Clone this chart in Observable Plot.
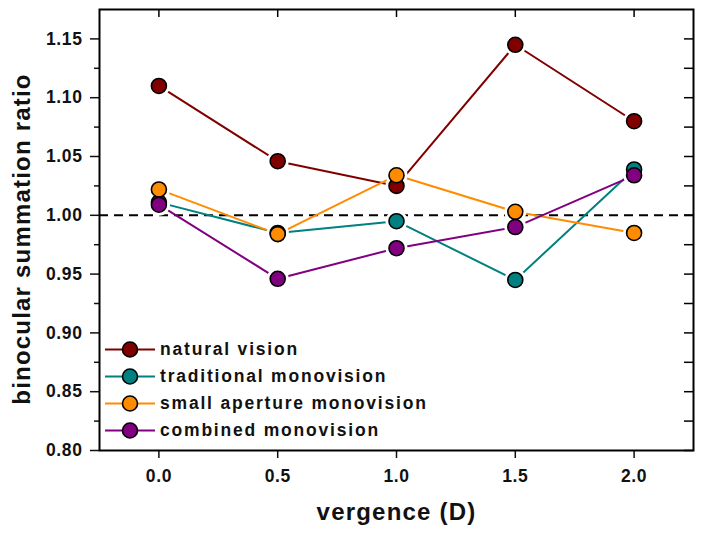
<!DOCTYPE html>
<html><head><meta charset="utf-8">
<script src="https://cdn.jsdelivr.net/npm/d3@7"></script>
<script src="https://cdn.jsdelivr.net/npm/@observablehq/plot@0.6"></script>
<style>
body{margin:0;background:#fff;font-family:"Liberation Sans",Arial,sans-serif;}
#wrap{position:relative;width:703px;height:537px;}
#legend{position:absolute;left:105px;top:336px;}
.row{display:flex;align-items:center;height:27px;}
.row span{font-weight:bold;font-size:17.5px;letter-spacing:1.8px;color:#111;margin-left:3px;}
g[aria-label="y-axis tick label"] text, g[aria-label="x-axis tick label"] text{letter-spacing:0.6px;font-size:17.5px;font-weight:bold;fill:#111;}
</style></head><body><div id="wrap"></div>
<script>
const vergence = [0.0, 0.5, 1.0, 1.5, 2.0];
const seriesNames = ["natural vision", "traditional monovision", "small aperture monovision", "combined monovision"];
const seriesColors = ["#800000", "#008080", "#FF8C00", "#800080"];
const natural = [1.110, 1.046, 1.025, 1.145, 1.080];
const traditional = [1.011, 0.985, 0.995, 0.945, 1.039];
const smallAperture = [1.022, 0.984, 1.034, 1.003, 0.985];
const combined = [1.009, 0.946, 0.972, 0.990, 1.034];
const yTicks = [0.80, 0.85, 0.90, 0.95, 1.00, 1.05, 1.10, 1.15];
const yMinorTicks = [0.825, 0.875, 0.925, 0.975, 1.025, 1.075, 1.125];
const xTicks = [0.0, 0.5, 1.0, 1.5, 2.0];
const xLabel = "vergence (D)";
const yLabel = "binocular summation ratio";

const seriesValues = [natural, traditional, smallAperture, combined];
const data = seriesNames.flatMap((name, i) =>
  vergence.map((v, j) => ({series: name, x: v, y: seriesValues[i][j]})));

const W = 703, H = 537, mL = 99, mR = 10, mT = 9, mB = 87;
const innerW = W - mL - mR, innerH = H - mT - mB;
const font = "'Liberation Sans', Arial, sans-serif";

const chart = Plot.plot({
  width: W, height: H,
  marginLeft: mL, marginRight: mR, marginTop: mT, marginBottom: mB,
  style: {fontFamily: font, background: "white", color: "#111"},
  x: {domain: [-0.25, 2.25]},
  y: {domain: [0.80, 1.175]},
  color: {domain: seriesNames, range: seriesColors},
  marks: [
    Plot.ruleY([1.0], {stroke: "black", strokeWidth: 2, strokeDasharray: "9,6"}),
    Plot.line(data, {x: "x", y: "y", z: "series", stroke: "series", strokeWidth: 2}),
    Plot.dot(data, {x: "x", y: "y", r: 11, fill: "white"}),
    Plot.dot(data, {x: "x", y: "y", r: 7.5, fill: "series", stroke: "black", strokeWidth: 1.6}),
    Plot.axisY(yTicks, {anchor: "left", tickSize: 9, tickPadding: 8, tickFormat: d3.format(".2f"), label: null, fontSize: 17.5, strokeWidth: 1.5}),
    Plot.axisY(yMinorTicks, {anchor: "left", tickSize: 5, tickFormat: () => "", label: null, strokeWidth: 1.5}),
    Plot.tickY(yTicks.concat(yMinorTicks), {y: d => d, insetLeft: innerW - 9, stroke: "black", strokeWidth: 1.5}),
    Plot.axisX(xTicks, {anchor: "bottom", tickSize: 8, tickPadding: 11, tickFormat: d3.format(".1f"), label: null, fontSize: 17.5, strokeWidth: 1.5}),
    Plot.tickX(xTicks, {x: d => d, insetBottom: innerH - 8, stroke: "black", strokeWidth: 1.5}),
    Plot.frame({stroke: "black", strokeWidth: 2}),
    Plot.text([xLabel], {frameAnchor: "bottom", dy: 62, fontSize: 24, fontWeight: "bold", fill: "#111", lineAnchor: "middle", textAnchor: "middle"}),
    Plot.text([yLabel], {frameAnchor: "left", dx: -77, dy: 9, rotate: -90, fontSize: 24, fontWeight: "bold", fill: "#111", lineAnchor: "middle", textAnchor: "middle"})
  ]
});
chart.querySelectorAll('g[aria-label="text"] text').forEach(t => t.style.letterSpacing = "1.2px");
const wrap = document.getElementById("wrap");
wrap.appendChild(chart);

const legend = document.createElement("div");
legend.id = "legend";
seriesNames.forEach((name, i) => {
  const row = document.createElement("div");
  row.className = "row";
  row.innerHTML = `<svg width="52" height="27"><line x1="0" x2="50" y1="13.5" y2="13.5" stroke="${seriesColors[i]}" stroke-width="2"/><circle cx="25" cy="13.5" r="7.5" fill="${seriesColors[i]}" stroke="black" stroke-width="1.6"/></svg><span>${name}</span>`;
  legend.appendChild(row);
});
wrap.appendChild(legend);
</script></body></html>
